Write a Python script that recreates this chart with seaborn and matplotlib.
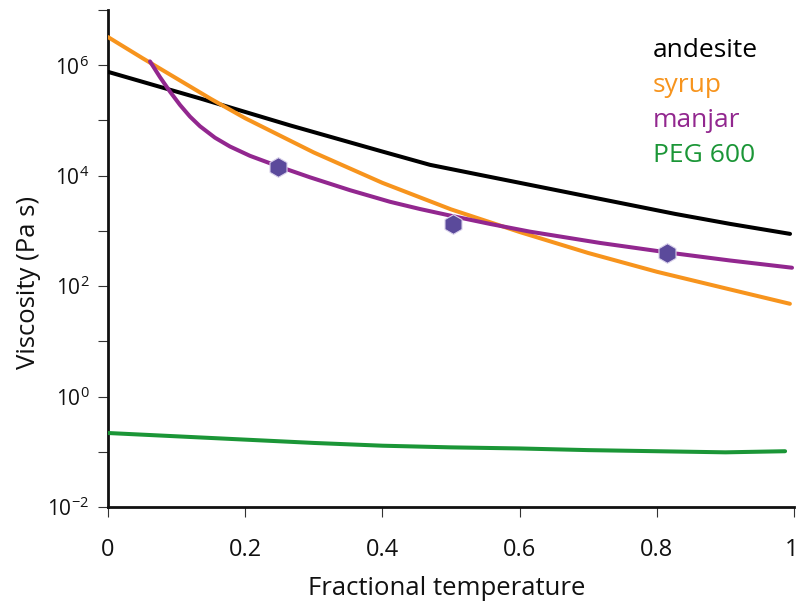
import numpy as np
import pandas as pd
import matplotlib
matplotlib.use("Agg")
import matplotlib.pyplot as plt
import matplotlib.transforms as mtransforms
import seaborn as sns

# ---- data (log10 viscosity, Pa s) ----
andesite_x = [0.0, 0.1341, 0.2653, 0.3965, 0.4694, 0.5423, 0.6152, 0.6880, 0.7609, 0.8265, 0.9067, 0.9942]
andesite_log = [5.880, 5.399, 4.911, 4.449, 4.196, 4.014, 3.833, 3.652, 3.471, 3.308, 3.127, 2.946]

syrup_x = [0.0, 0.05, 0.1, 0.15, 0.2, 0.3, 0.4, 0.5, 0.6, 0.7, 0.8, 0.9, 0.994]
syrup_log = [6.51, 6.13, 5.76, 5.39, 5.04, 4.42, 3.87, 3.39, 2.98, 2.60, 2.26, 1.96, 1.68]

manjar_x = [0.0612, 0.0758, 0.0904, 0.1050, 0.1195, 0.1341, 0.1560, 0.1778, 0.2070, 0.2478,
            0.2945, 0.3528, 0.4111, 0.4548, 0.5029, 0.5569, 0.6152, 0.7172, 0.8149, 0.9067, 0.9971]
manjar_log = [6.069, 5.784, 5.521, 5.280, 5.070, 4.895, 4.687, 4.528, 4.359, 4.171,
              3.970, 3.737, 3.527, 3.396, 3.266, 3.126, 2.986, 2.782, 2.611, 2.464, 2.333]

manjar_pts_x = [0.248, 0.503, 0.815]
manjar_pts_log = [4.16, 3.12, 2.60]

peg_x = [0.0, 0.1, 0.2, 0.3, 0.4, 0.5, 0.6, 0.7, 0.8, 0.9, 0.987]
peg_log = [-0.66, -0.72, -0.78, -0.84, -0.89, -0.92, -0.94, -0.97, -0.99, -1.01, -0.99]

series_names = ["andesite", "syrup", "manjar", "PEG 600"]
series_colors = ["#000000", "#F7941D", "#92278F", "#1B9637"]
marker_color = "#5B4A9B"

x_ticks = [0, 0.2, 0.4, 0.6, 0.8, 1]
x_tick_labels = ["0", "0.2", "0.4", "0.6", "0.8", "1"]
y_tick_exps = [-2, -1, 0, 1, 2, 3, 4, 5, 6, 7]
y_tick_labels = [r"$\mathregular{10^{-2}}$", "", r"$\mathregular{10^{0}}$", "",
                 r"$\mathregular{10^{2}}$", "", r"$\mathregular{10^{4}}$", "",
                 r"$\mathregular{10^{6}}$", ""]

x_label = "Fractional temperature"
y_label = "Viscosity (Pa s)"

# ---- style ----
sns.set_theme(style="ticks")
plt.rcParams["font.family"] = ["Open Sans", "DejaVu Sans"]
plt.rcParams["mathtext.fontset"] = "custom"
plt.rcParams["mathtext.rm"] = "Open Sans"
plt.rcParams["mathtext.it"] = "Open Sans:italic"
plt.rcParams["mathtext.bf"] = "Open Sans:bold"

fig = plt.figure(figsize=(7.98, 6.10), dpi=100)
ax = fig.add_axes([108 / 798, 1 - 507 / 610, (794 - 108) / 798, (507 - 10) / 610])

def frame(xs, logs):
    return pd.DataFrame({"x": xs, "y": 10.0 ** np.asarray(logs)})

lw = 2.9
all_series = [(andesite_x, andesite_log), (syrup_x, syrup_log),
              (manjar_x, manjar_log), (peg_x, peg_log)]
order = [3, 0, 1, 2]
for i in order:
    xs, logs = all_series[i]
    line_df = frame(xs, logs)
    sns.lineplot(data=line_df, x="x", y="y", color=series_colors[i],
                 lw=lw, ax=ax, sort=True, estimator=None, zorder=3 + i)
    ax.lines[-1].set_solid_joinstyle("round")

sns.scatterplot(data=frame(manjar_pts_x, manjar_pts_log), x="x", y="y",
                marker="h", s=200, color=marker_color, edgecolor="#d8d0ea",
                linewidth=0.8, ax=ax, zorder=10)

ax.set_yscale("log")
ax.set_xlim(0, 1)
ax.set_ylim(1e-2, 1e7)
ax.set_xticks(x_ticks)
ax.set_xticklabels(x_tick_labels)
ax.set_yticks([10.0 ** e for e in y_tick_exps])
ax.set_yticklabels(y_tick_labels)
ax.yaxis.set_minor_locator(matplotlib.ticker.NullLocator())

for s in ["top", "right"]:
    ax.spines[s].set_visible(False)
for s in ["left", "bottom"]:
    ax.spines[s].set_linewidth(2.0)
    ax.spines[s].set_color("#111111")

ax.tick_params(axis="both", which="major", direction="out", length=7.5, width=0.8,
               color="#333333", labelcolor="#111111")
ax.tick_params(axis="x", pad=15, labelsize=17)
ax.tick_params(axis="y", pad=6, labelsize=15)

# keep the last x label inside the figure
last = ax.get_xticklabels()[-1]
last.set_horizontalalignment("right")
last.set_transform(last.get_transform() +
                   mtransforms.ScaledTranslation(4 / 100, 0, fig.dpi_scale_trans))

ax.set_xlabel(x_label, fontsize=18.5, color="#111111", va="top")
ax.xaxis.set_label_coords(0.493, -0.139)
ax.set_ylabel(y_label, fontsize=18.5, color="#111111", va="bottom")
ax.yaxis.set_label_coords(-0.097, 0.451)

base_y = 1 - (56.7 - 10) / 497
step = 35.0 / 497
for k, (name, col) in enumerate(zip(series_names, series_colors)):
    ax.text((653 - 108) / 686, base_y - k * step, name, color=col, fontsize=19,
            transform=ax.transAxes, ha="left", va="baseline")

fig.savefig("out.png", dpi=100)
